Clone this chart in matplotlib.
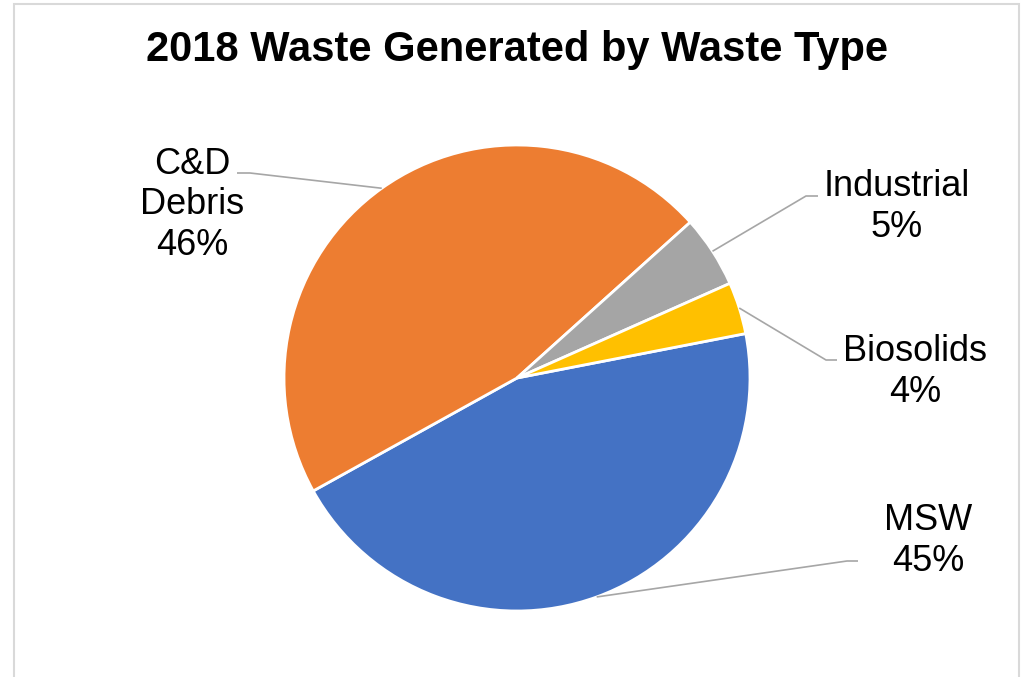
import numpy as np
import matplotlib
matplotlib.use("Agg")
import matplotlib.pyplot as plt
from matplotlib.patches import Rectangle

# ---- data ----
categories = ["MSW", "C&D\nDebris", "Industrial", "Biosolids"]
shares = [45.0, 46.4, 5.0, 3.6]
pct_labels = ["45%", "46%", "5%", "4%"]
colors = ["#4472C4", "#ED7D31", "#A5A5A5", "#FFC000"]
title = "2018 Waste Generated by Waste Type"

W, H = 1032, 677
plt.rcParams['font.family'] = ['Liberation Sans', 'DejaVu Sans']
fig = plt.figure(figsize=(W / 100, H / 100), dpi=100)
ax = fig.add_axes([0, 0, 1, 1])

def py(y):  # pixel-from-top to data y
    return H - y

cx, cy, r = 517, py(378), 233
wedges, _ = ax.pie(shares, colors=colors, startangle=11, counterclock=False,
                   center=(cx, cy), radius=r,
                   wedgeprops=dict(edgecolor="white", linewidth=2))
ax.set_xlim(0, W)
ax.set_ylim(0, H)
ax.set_aspect('equal')
ax.axis('off')

# label layout: (text center x, text center y in px), elbow end, elbow start
layout = [
    dict(tx=928, ty=541, e1=(858, 561), e0=(847, 561)),
    dict(tx=192, ty=205, e1=(237, 173), e0=(250, 173)),
    dict(tx=897, ty=207, e1=(818, 196), e0=(806, 196)),
    dict(tx=915, ty=372, e1=(837, 360), e0=(826, 360)),
]

for w, cat, pct, lay in zip(wedges, categories, pct_labels, layout):
    mid = np.deg2rad((w.theta1 + w.theta2) / 2)
    sx, sy = cx + r * np.cos(mid), cy + r * np.sin(mid)
    ax.plot([sx, lay['e0'][0], lay['e1'][0]],
            [sy, py(lay['e0'][1]), py(lay['e1'][1])],
            color="#A6A6A6", lw=1.2, solid_capstyle='butt')
    ax.text(lay['tx'], py(lay['ty']), f"{cat}\n{pct}", ha='center', va='center',
            fontsize=26, color='black', linespacing=1.22)

ax.text(517, py(50), title, ha='center', va='center', fontsize=30,
        fontweight='bold', color='black')

# chart frame
ax.add_patch(Rectangle((14, py(690)), 1005, 686, fill=False,
                       edgecolor="#D9D9D9", lw=1.5, clip_on=False))

fig.savefig("out.png", dpi=100)
